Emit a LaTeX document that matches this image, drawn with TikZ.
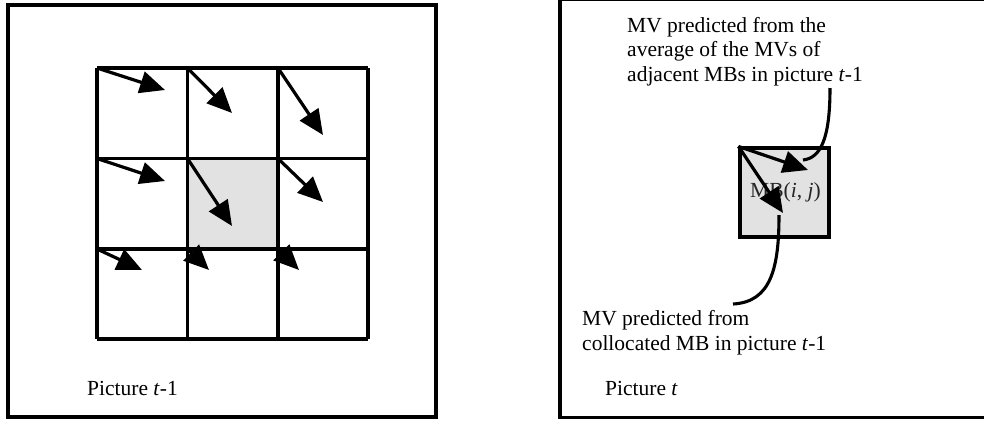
\documentclass[tikz,border=0pt]{standalone}
\usepackage{fontspec}
\setmainfont{Liberation Serif}
\usetikzlibrary{arrows.meta}
\definecolor{mbgray}{HTML}{E2E2E2}
\tikzset{
  frame/.style={draw=black, line width=3.1pt},
  gridline/.style={draw=black, line width=3.1pt},
  mv/.style={line width=3.2pt, -{Triangle[length=25pt,width=22pt]}},
  lead/.style={line width=3.1pt},
  lbl/.style={anchor=base west, inner sep=0pt, font=\fontsize{21.5}{24.5}\selectfont},
}
\begin{document}
\begin{tikzpicture}[x=1pt,y=-1pt]
  \path[use as bounding box] (0,0) rectangle (984,421);
  \clip (0,0) rectangle (984,421);

  % ---------- picture t-1 ----------
  \draw[frame] (8,5) rectangle (436,417);
  \fill[mbgray] (187.5,158.5) rectangle (278,249);
  \foreach \x in {97,187.5,278,368}
    \draw[gridline] (\x,68) -- (\x,339);
  \foreach \y in {68,158.5,249,339}
    \draw[gridline] (97,\y) -- (368,\y);

  % corners of the macroblocks and motion vector end points
  \coordinate (p11) at (97,68);    \coordinate (q11) at (165,90);
  \coordinate (p12) at (187.5,68); \coordinate (q12) at (232,113);
  \coordinate (p13) at (278,68);   \coordinate (q13) at (323,135);
  \coordinate (p21) at (97,158.5); \coordinate (q21) at (165,181);
  \coordinate (p22) at (187.5,158.5); \coordinate (q22) at (232,226);
  \coordinate (p23) at (278,158.5);   \coordinate (q23) at (323,202);
  \coordinate (p31) at (97,249);   \coordinate (q31) at (142,270);
  \coordinate (p32) at (187.5,249); \coordinate (q32) at (209,270);
  \coordinate (p33) at (278,249);  \coordinate (q33) at (299,270);
  \foreach \r in {1,2,3}
    \foreach \c in {1,2,3}
      \draw[mv] (p\r\c) -- (q\r\c);

  \node[lbl] (ptm) at (87,395) {Picture \textit{t}-1};

  % ---------- picture t ----------
  \draw[frame] (560,-1) rectangle (988,417.5);
  \node[draw=black, fill=mbgray, line width=3.1pt, minimum size=89pt,
        inner sep=0pt] (mb) at (784.5,192.5) {};
  \node[lbl, text=black!85] (mbl) at (750,197) {MB(\textit{i}, \textit{j})};

  \coordinate (avg) at (808,170);
  \coordinate (col) at (783,213);
  \draw[mv] (mb.north west) -- (avg);
  \draw[mv] (mb.north west) -- (col);

  \node[lbl] (a1) at (627,32) {MV predicted from the};
  \node[lbl] (a2) at (627,56.5) {average of the MVs of};
  \node[lbl] (a3) at (627,81) {adjacent MBs in picture \textit{t}-1};
  \node[lbl] (b1) at (582,325) {MV predicted from};
  \node[lbl] (b2) at (582,350) {collocated MB in picture \textit{t}-1};
  \node[lbl] (pt) at (605,395) {Picture \textit{t}};

  % leader curves from the captions to the vectors
  \coordinate (a3end) at (830,88);
  \coordinate (avgend) at (803,160);
  \coordinate (b1end) at (733,304);
  \coordinate (colend) at (779,215);
  \draw[lead] (a3end) .. controls (830,138) and (821,158) .. (avgend);
  \draw[lead] (colend) .. controls (779,268) and (771,302) .. (b1end);
\end{tikzpicture}
\end{document}
